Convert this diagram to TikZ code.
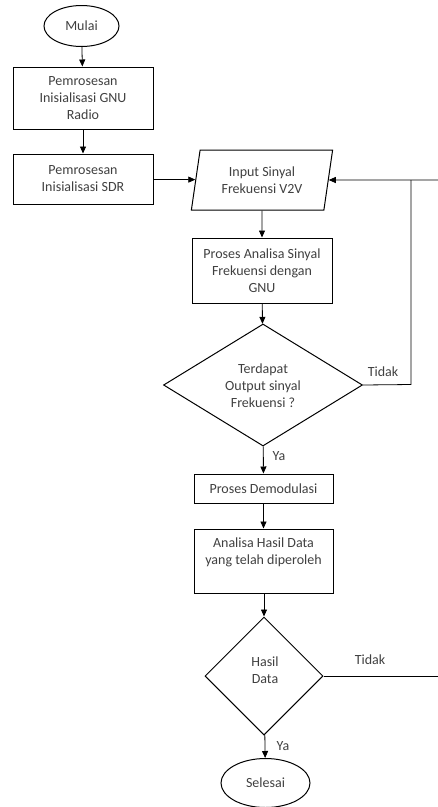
\documentclass[tikz,border=0pt]{standalone}
\usepackage{fontspec}
\setmainfont{Carlito}
\usetikzlibrary{arrows.meta,shapes.geometric}
\definecolor{txt}{HTML}{404040}
\tikzset{
  every node/.style={font=\fontsize{14pt}{17pt}\selectfont, text=txt},
  box/.style={draw=black, line width=1pt, rectangle, inner sep=0pt, align=center},
  term/.style={draw=black, line width=1pt, ellipse, inner sep=0pt},
  dec/.style={draw=black, line width=1pt, diamond, inner sep=0pt, align=center},
  io/.style={draw=black, line width=1pt, trapezium, trapezium left angle=78, trapezium right angle=102, trapezium stretches=true, inner sep=0pt, align=center},
  arr/.style={line width=0.8pt, -{Triangle[length=7pt,width=6pt]}},
  ln/.style={line width=0.8pt},
  lbl/.style={inner sep=0pt}
}
\begin{document}
\begin{tikzpicture}[x=1pt,y=-1pt]
\useasboundingbox (0,0) rectangle (438,807);
\node[term, minimum width=75pt, minimum height=41pt] (mulai) at (81.5,26) {Mulai};
\node[box, minimum width=140pt, minimum height=62pt] (b1) at (83,98) {Pemrosesan\\Inisialisasi GNU\\Radio};
\node[box, minimum width=140pt, minimum height=50pt] (b2) at (83,179) {Pemrosesan\\Inisialisasi SDR};
\node[io, minimum width=142pt, minimum height=60pt] (in) at (262,180) {Input Sinyal\\Frekuensi V2V};
\node[box, minimum width=140pt, minimum height=65pt] (b3) at (262,270.5) {Proses Analisa Sinyal\\Frekuensi dengan\\GNU};
\node[dec, minimum width=199pt, minimum height=122pt] (d1) at (263,385) {};
\node[lbl, align=center] (d1t) at (263,386) {Terdapat\\Output sinyal\\Frekuensi ?};
\node[box, minimum width=139pt, minimum height=29pt] (b4) at (263.5,488.5) {Proses Demodulasi};
\node[box, minimum width=139pt, minimum height=64pt] (b5) at (263.5,561) {};
\node[lbl, align=center] (b5t) at (263.5,552) {Analisa Hasil Data\\yang telah diperoleh};
\node[dec, minimum width=118pt, minimum height=118pt] (d2) at (264,676) {};
\node[lbl, align=center] (d2t) at (265,670) {Hasil\\Data};
\node[term, minimum width=89pt, minimum height=49pt] (selesai) at (265.5,783) {Selesai};
\coordinate (e1) at (438,180);
\coordinate (r1) at (411,384.5);
\coordinate (r1t) at (411,180);
\coordinate (e2) at (438,676);
\node[lbl] (t1) at (383,372) {Tidak};
\node[lbl] (y1) at (279,456) {Ya};
\node[lbl] (t2) at (370,660) {Tidak};
\node[lbl] (y2) at (283,746) {Ya};
\draw[arr] (mulai) -- (b1);
\draw[arr] (b1) -- (b2);
\draw[arr] (b2) -- (in);
\draw[arr] (in) -- (b3);
\draw[arr] (b3) -- (d1);
\draw[arr] (d1) -- (b4);
\draw[arr] (b4) -- (b5);
\draw[arr] (b5.south -| d2.north) -- (d2);
\draw[arr] (d2) -- (selesai);
\draw[arr] (e1) -- (in);
\draw[ln] (d1.east) -- (r1) -- (r1t);
\draw[ln] (d2.east) -- (e2);
\end{tikzpicture}
\end{document}
